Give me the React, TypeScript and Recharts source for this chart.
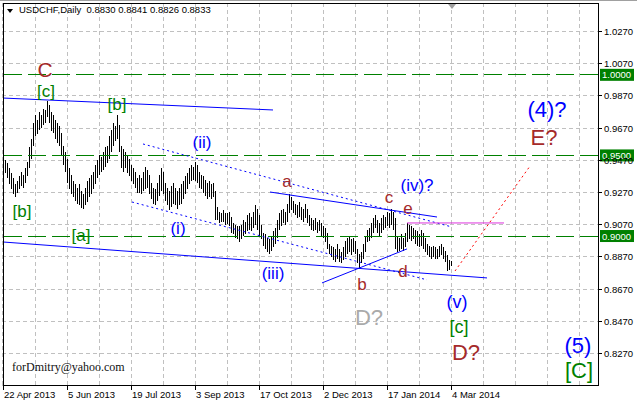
import React from "react";
import {
  ComposedChart,
  Bar,
  XAxis,
  YAxis,
  CartesianGrid,
  ReferenceLine,
  ReferenceDot,
} from "recharts";

// daily highs / lows in pips (x 0.0001), 22 Apr 2013 .. 4 Mar 2014
const highs = [
  9500, 9470, 9450, 9420, 9390, 9360, 9320, 9340, 9370, 9400, 9380, 9420, 9460, 9550, 9600, 9700,
  9750, 9720, 9770, 9750, 9790, 9780, 9838, 9810, 9770, 9750, 9720, 9700, 9680, 9640, 9560, 9520,
  9480, 9420, 9380, 9340, 9320, 9300, 9320, 9280, 9260, 9300, 9340, 9360, 9380, 9400, 9440, 9470,
  9500, 9490, 9520, 9550, 9560, 9620, 9660, 9700, 9680, 9752, 9690, 9560, 9540, 9520, 9500, 9480,
  9440, 9420, 9400, 9360, 9380, 9360, 9400, 9430, 9410, 9380, 9330, 9300, 9290, 9330, 9380, 9420,
  9400, 9330, 9300, 9280, 9310, 9330, 9300, 9280, 9300, 9320, 9340, 9370, 9390, 9420, 9440, 9430,
  9460, 9440, 9400, 9380, 9370, 9350, 9330, 9340, 9320, 9330, 9280, 9180, 9150, 9140, 9160, 9145,
  9140, 9150, 9120, 9080, 9070, 9060, 9060, 9070, 9100, 9090, 9130, 9140, 9120, 9150, 9190, 9170,
  9130, 9070, 9020, 9010, 8990, 8980, 9000, 9030, 9050, 9100, 9140, 9160, 9170, 9150, 9200, 9260,
  9240, 9220, 9200, 9190, 9210, 9180, 9170, 9200, 9170, 9130, 9110, 9100, 9110, 9090, 9100, 9080,
  9060, 9050, 9020, 8950, 8940, 8930, 8920, 8950, 8920, 8900, 8930, 8970, 8990, 9000, 8980, 8990,
  8970, 8920, 8890, 8900, 8950, 9000, 9040, 9050, 9080, 9110, 9130, 9100, 9080, 9110, 9130, 9120,
  9150, 9140, 9168, 9150, 9110, 9000, 8990, 9010, 8990, 9020, 9081, 9070, 9060, 9050, 9040, 9030,
  9010, 9040, 9020, 8990, 8950, 8940, 8930, 8940, 8930, 8920, 8940, 8950, 8930, 8910, 8880, 8850,
  8845,
];
const lows = [
  9330, 9390, 9360, 9320, 9290, 9260, 9243, 9270, 9290, 9310, 9300, 9330, 9370, 9420, 9480, 9560,
  9620, 9630, 9660, 9670, 9690, 9700, 9740, 9700, 9650, 9640, 9600, 9580, 9560, 9500, 9440, 9400,
  9330, 9290, 9260, 9240, 9220, 9200, 9190, 9175, 9170, 9190, 9210, 9240, 9260, 9290, 9320, 9360,
  9380, 9400, 9410, 9430, 9450, 9480, 9520, 9560, 9590, 9600, 9520, 9420, 9400, 9420, 9390, 9370,
  9340, 9320, 9300, 9270, 9270, 9260, 9280, 9290, 9300, 9260, 9230, 9200, 9190, 9220, 9250, 9280,
  9260, 9220, 9190, 9160, 9180, 9200, 9190, 9170, 9190, 9200, 9230, 9260, 9290, 9320, 9340, 9350,
  9340, 9330, 9300, 9290, 9270, 9250, 9230, 9240, 9230, 9240, 9100, 9100, 9080, 9090, 9085, 9070,
  9075, 9060, 9020, 9010, 8990, 8980, 8960, 8980, 9000, 9010, 9030, 9040, 9030, 9050, 9070, 9040,
  9000, 8980, 8940, 8920, 8900, 8890, 8910, 8930, 8950, 8990, 9040, 9060, 9080, 9070, 9090, 9140,
  9160, 9140, 9130, 9110, 9120, 9100, 9090, 9110, 9080, 9060, 9040, 9030, 9040, 9020, 9030, 9000,
  8990, 8960, 8920, 8890, 8870, 8850, 8840, 8860, 8840, 8830, 8850, 8870, 8890, 8900, 8880, 8900,
  8890, 8830, 8800, 8830, 8860, 8900, 8960, 8970, 8990, 9020, 9050, 9020, 9000, 9020, 9040, 9050,
  9060, 9050, 9070, 9040, 8920, 8900, 8910, 8920, 8910, 8930, 8960, 8980, 8970, 8980, 8950, 8940,
  8930, 8940, 8920, 8900, 8880, 8870, 8860, 8870, 8860, 8860, 8870, 8880, 8860, 8840, 8780, 8790,
  8815,
];

const dateLabels = [
  "22 Apr 2013",
  "5 Jun 2013",
  "19 Jul 2013",
  "3 Sep 2013",
  "17 Oct 2013",
  "2 Dec 2013",
  "17 Jan 2014",
  "4 Mar 2014",
];
const priceTicks = [0.827, 0.847, 0.867, 0.887, 0.907, 0.927, 0.947, 0.967, 0.987, 1.007, 1.027];
const levels = [1.0, 0.95, 0.9];

// trend lines: bar index / price of both ends
const trendLines = [
  { x1: 0, p1: 0.9856, x2: 135, p2: 0.9782, color: "#0000ff", dash: undefined },
  { x1: 0, p1: 0.8963, x2: 242, p2: 0.874, color: "#0000ff", dash: undefined },
  { x1: 70, p1: 0.9571, x2: 224.5, p2: 0.9056, color: "#0000ff", dash: "2 3" },
  { x1: 64.5, p1: 0.9211, x2: 212, p2: 0.8728, color: "#0000ff", dash: "2 3" },
  { x1: 133.5, p1: 0.9273, x2: 217, p2: 0.9118, color: "#0000ff", dash: undefined },
  { x1: 159.5, p1: 0.8709, x2: 202, p2: 0.892, color: "#0000ff", dash: undefined },
  { x1: 202, p1: 0.9081, x2: 250.5, p2: 0.9081, color: "#dd33dd", dash: undefined },
  { x1: 226, p1: 0.8783, x2: 263.5, p2: 0.9434, color: "#ff0000", dash: "2 3" },
];

const BLUE = "#0000ff";
const GREEN = "#008000";
const BROWN = "#a52a2a";

const notes = [
  { t: "C", x: 21, p: 1.003, c: BROWN, s: 21 },
  { t: "[c]", x: 21.5, p: 0.99, c: GREEN, s: 17 },
  { t: "[b]", x: 57, p: 0.9819, c: GREEN, s: 17 },
  { t: "[b]", x: 9.5, p: 0.9155, c: GREEN, s: 17 },
  { t: "[a]", x: 39, p: 0.9006, c: GREEN, s: 17 },
  { t: "(ii)", x: 99.5, p: 0.9583, c: BLUE, s: 17 },
  { t: "(i)", x: 87.5, p: 0.905, c: BLUE, s: 17 },
  { t: "(iii)", x: 135, p: 0.8771, c: BLUE, s: 17 },
  { t: "a", x: 142, p: 0.9341, c: BROWN, s: 17 },
  { t: "b", x: 179.5, p: 0.8702, c: BROWN, s: 17 },
  { t: "c", x: 193, p: 0.9242, c: BROWN, s: 17 },
  { t: "d", x: 200, p: 0.8783, c: BROWN, s: 17 },
  { t: "e", x: 202.5, p: 0.9174, c: BROWN, s: 17 },
  { t: "D?", x: 183, p: 0.8498, c: "#aaaaaa", s: 22 },
  { t: "(iv)?", x: 207, p: 0.9317, c: BLUE, s: 17 },
  { t: "(v)", x: 227, p: 0.8591, c: BLUE, s: 18 },
  { t: "[c]", x: 228, p: 0.8436, c: GREEN, s: 18 },
  { t: "D?", x: 231.5, p: 0.8281, c: BROWN, s: 22 },
  { t: "(4)?", x: 272, p: 0.9788, c: BLUE, s: 22 },
  { t: "E?", x: 270.5, p: 0.9614, c: BROWN, s: 22 },
  { t: "(5)", x: 287.5, p: 0.8324, c: BLUE, s: 22 },
  { t: "[C]", x: 288, p: 0.8169, c: GREEN, s: 22 },
];

const SLOTS = 298;
const gridTicks = Array.from({ length: 19 }, (_, k) => k * 16);

const rows = Array.from({ length: SLOTS }, (_, i) =>
  i < highs.length ? { i, hl: [lows[i] / 10000, highs[i] / 10000] } : { i }
);

const FONT = "'Liberation Sans', Arial, sans-serif";

const XTick = (props: any) => {
  const { x, y, payload } = props;
  const v = payload.value as number;
  const label = v % 32 === 0 ? dateLabels[v / 32] : undefined;
  if (!label) return null;
  return (
    <g>
      <line x1={x} x2={x} y1={y} y2={y + 5} stroke="#000" shapeRendering="crispEdges" />
      <text x={x + 1} y={y + 12.5} fontSize={9.5} fontFamily={FONT} fill="#000">
        {label}
      </text>
    </g>
  );
};

const YTick = (props: any) => {
  const { x, y, payload } = props;
  return (
    <g>
      <line x1={x} x2={x + 4} y1={y} y2={y} stroke="#000" shapeRendering="crispEdges" />
      <text x={x + 6} y={y} dy={3.5} fontSize={9.5} fontFamily={FONT} fill="#000">
        {Number(payload.value).toFixed(4)}
      </text>
    </g>
  );
};

const LevelTag = (props: any) => {
  const { viewBox, txt } = props;
  if (!viewBox) return null;
  const x = viewBox.x + viewBox.width + 2;
  const y = viewBox.y;
  return (
    <g>
      <rect x={x} y={y - 6} width={34} height={12} fill={GREEN} />
      <text x={x + 2} y={y} dy={3.5} fontSize={9.5} fontFamily={FONT} fill="#fff">
        {txt}
      </text>
    </g>
  );
};

const HLBar = (props: any) => {
  const { x, y, width, height } = props;
  if (x == null || y == null || !height) return null;
  const cx = Math.round(x + width / 2);
  const top = Math.min(y, y + height);
  const bot = Math.max(y, y + height);
  return <line x1={cx} x2={cx} y1={top} y2={bot} stroke="#000" shapeRendering="crispEdges" />;
};

export default function App() {
  return (
    <div style={{ position: "relative", width: 637, height: 402, background: "#fff" }}>
      <style>{"body{margin:0}"}</style>
      <ComposedChart
        width={637}
        height={402}
        data={rows}
        margin={{ top: 3, right: 0, bottom: 0, left: 2 }}
      >
        <CartesianGrid
          xAxisId="cat"
          stroke="#c0c0c0"
          strokeDasharray="4 3"
          shapeRendering="crispEdges"
        />
        <XAxis
          xAxisId="cat"
          dataKey="i"
          type="category"
          ticks={gridTicks}
          interval={0}
          height={17}
          tickSize={0}
          tickMargin={0}
          tickLine={false}
          axisLine={false}
          tick={<XTick />}
        />
        <XAxis
          xAxisId="num"
          dataKey="i"
          type="number"
          domain={[-0.5, SLOTS - 0.5]}
          allowDataOverflow
          hide
        />
        <YAxis
          orientation="right"
          type="number"
          domain={[0.80758, 1.04456]}
          allowDataOverflow
          ticks={priceTicks}
          width={39}
          tickSize={0}
          tickMargin={0}
          tickLine={false}
          axisLine={false}
          tick={<YTick />}
        />
        {levels.map((lv) => (
          <ReferenceLine
            key={lv}
            xAxisId="num"
            y={lv}
            stroke={GREEN}
            strokeDasharray="18 6"
            shapeRendering="crispEdges"
            label={<LevelTag txt={lv.toFixed(4)} />}
          />
        ))}
        {trendLines.map((t, k) => (
          <ReferenceLine
            key={"t" + k}
            xAxisId="num"
            segment={[
              { x: t.x1, y: t.p1 },
              { x: t.x2, y: t.p2 },
            ]}
            stroke={t.color}
            strokeWidth={1}
            strokeDasharray={t.dash}
            ifOverflow="visible"
          />
        ))}
        <Bar
          xAxisId="cat"
          dataKey="hl"
          isAnimationActive={false}
          shape={<HLBar />}
        />
        {notes.map((n, k) => (
          <ReferenceDot
            key={"n" + k}
            xAxisId="num"
            x={n.x}
            y={n.p}
            r={1}
            ifOverflow="visible"
            shape={(p: any) => (
              <text
                x={p.cx}
                y={p.cy}
                dy={n.s * 0.35}
                textAnchor="middle"
                fontSize={n.s}
                fontFamily={FONT}
                fill={n.c}
              >
                {n.t}
              </text>
            )}
          />
        ))}
      </ComposedChart>
      {/* window frame */}
      <div style={{ position: "absolute", left: 0, top: 0, width: 637, height: 1, background: "#a0a0a0" }} />
      <div
        style={{
          position: "absolute",
          left: 3,
          top: 3,
          width: 596,
          height: 383,
          border: "1px solid #000",
          boxSizing: "border-box",
          pointerEvents: "none",
        }}
      />
      <div
        style={{
          position: "absolute",
          left: 448,
          top: 4,
          width: 0,
          height: 0,
          borderLeft: "4px solid transparent",
          borderRight: "4px solid transparent",
          borderTop: "5px solid #a0a0a0",
        }}
      />
      <div
        style={{
          position: "absolute",
          left: 7,
          top: 9,
          width: 0,
          height: 0,
          borderLeft: "3.5px solid transparent",
          borderRight: "3.5px solid transparent",
          borderTop: "4px solid #000",
        }}
      />
      <div
        style={{
          position: "absolute",
          left: 19,
          top: 4,
          fontFamily: FONT,
          fontSize: 9.5,
          lineHeight: "12px",
          color: "#000",
          whiteSpace: "pre",
        }}
      >
        {"USDCHF,Daily  0.8830 0.8841 0.8826 0.8833"}
      </div>
      <div
        style={{
          position: "absolute",
          left: 12,
          top: 360,
          fontFamily: "'Liberation Serif', 'Times New Roman', serif",
          fontSize: 12,
          lineHeight: "14px",
          color: "#111",
        }}
      >
        forDmitry@yahoo.com
      </div>
    </div>
  );
}
